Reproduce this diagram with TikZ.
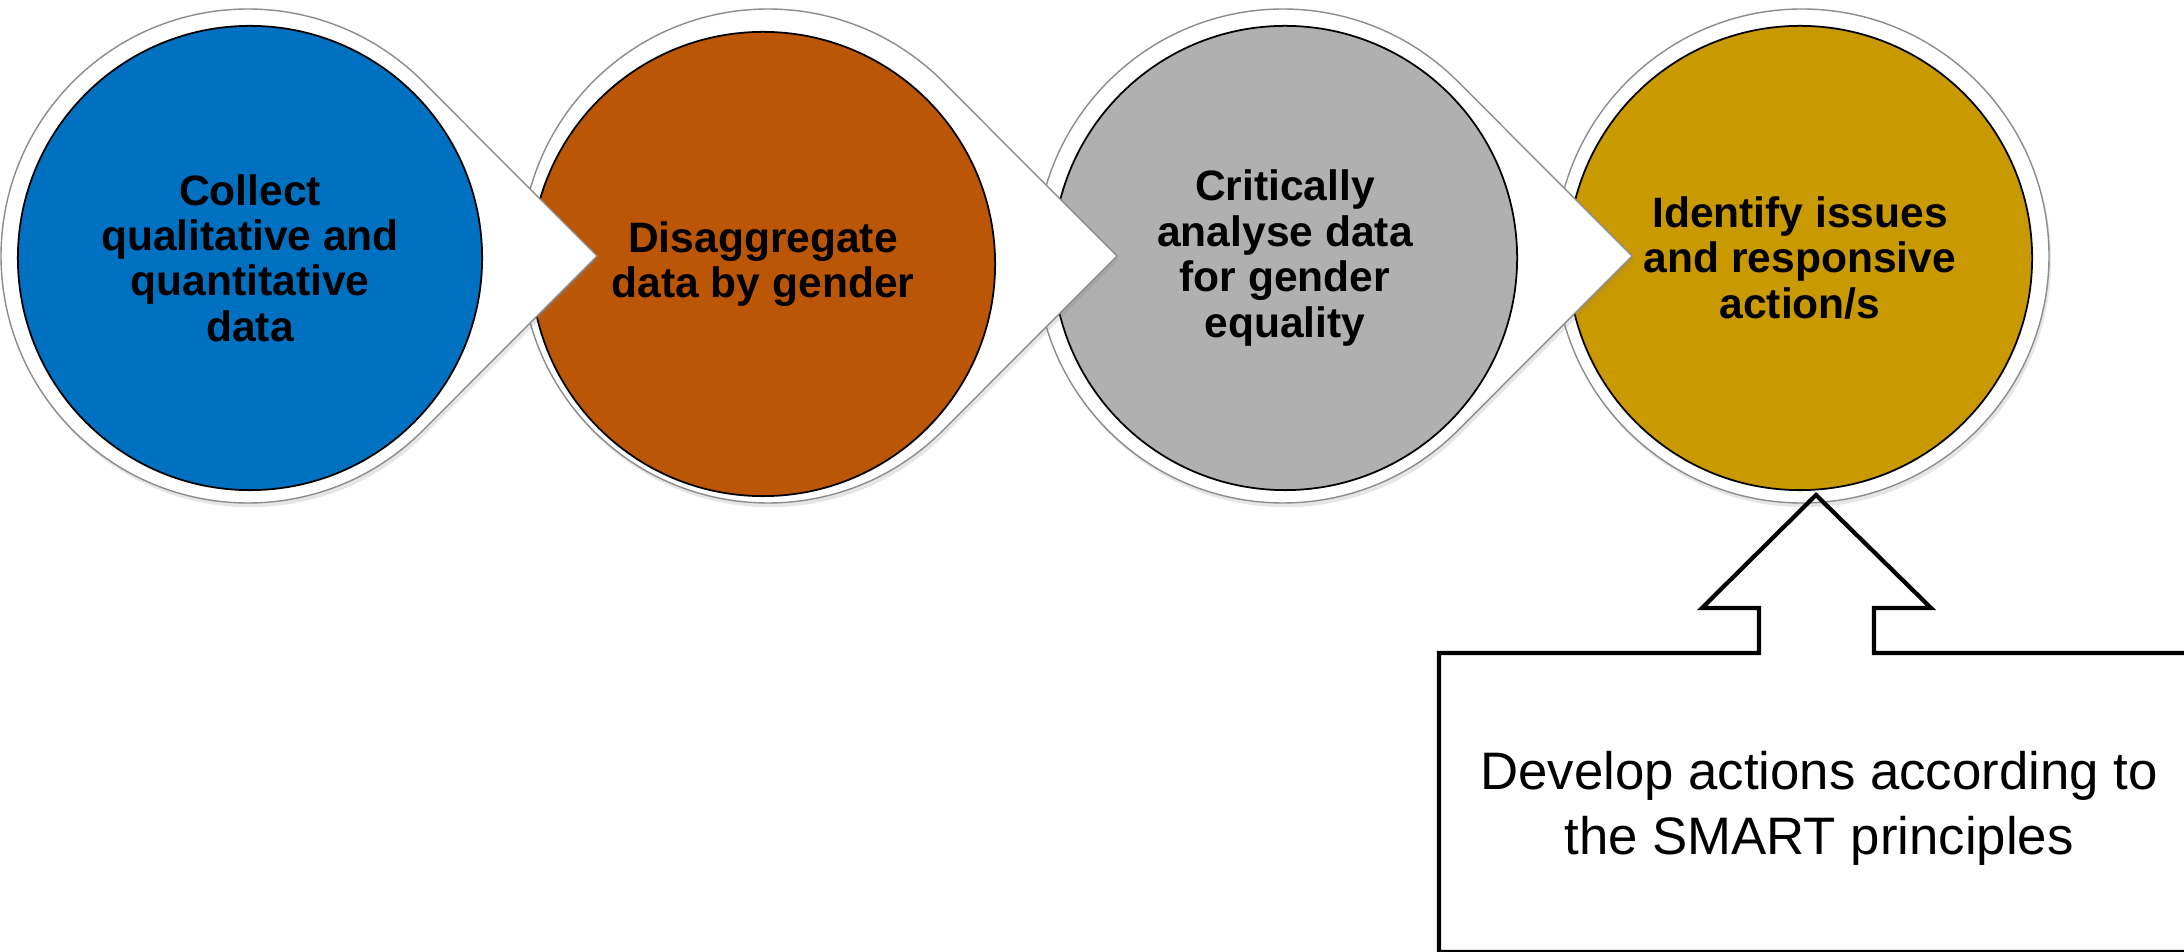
\documentclass[tikz,border=0pt]{standalone}
\usepackage{fontspec}
\setmainfont{Liberation Sans}
\usetikzlibrary{shadows}

\definecolor{stepblue}{RGB}{0,112,192}
\definecolor{steporange}{RGB}{187,86,6}
\definecolor{stepgrey}{RGB}{176,176,176}
\definecolor{stepgold}{RGB}{201,153,0}

\tikzset{
  stepcircle/.style={circle, draw=black, line width=0.5pt, minimum size=4.64cm,
    inner sep=0pt, align=center, font=\fontsize{12.1}{12.9}\selectfont\bfseries},
  halo/.style={fill=white, draw=black!45, line width=0.4pt,
    drop shadow={shadow xshift=0.6pt, shadow yshift=-1.2pt, opacity=0.2}},
}

\begin{document}
\begin{tikzpicture}[x=0.01cm, y=0.01cm]
  \useasboundingbox (0,0) rectangle (2184,951);
  \clip (0,0) rectangle (2184,951);

  % last step first, so every arrow lies over the next circle
  \draw[halo] (1802,695) circle (247);
  \node[stepcircle, fill=stepgold] (s4) at (1800,693) {Identify issues\\and responsive\\action/s};

  \foreach \i/\ox/\cx/\cy/\col/\txt in {
      3/1283/1285/693/stepgrey/{Critically\\analyse data\\for gender\\equality},
      2/768/763/687/steporange/{Disaggregate\\data by gender},
      1/248/250/693/stepblue/{Collect\\qualitative and\\quantitative\\data}}{
    \draw[halo] (\ox,695) ++(45:247) arc (45:315:247) -- (\ox+349,695) -- cycle;
    \node[stepcircle, fill=\col] (s\i) at (\cx,\cy) {\txt};
  }

  % callout under the last step
  \draw[line width=1.2pt] (1439,-1) -- (1439,298) -- (1759,298) -- (1759,343)
    -- (1702,343) -- (1816,456) -- (1931,343) -- (1874,343) -- (1874,298)
    -- (2200,298) -- (2200,-1) -- cycle;
  \node[font=\fontsize{15}{18.5}\selectfont, align=center] (smart) at (1819,143)
    {Develop actions according to\\the SMART principles};
\end{tikzpicture}
\end{document}
